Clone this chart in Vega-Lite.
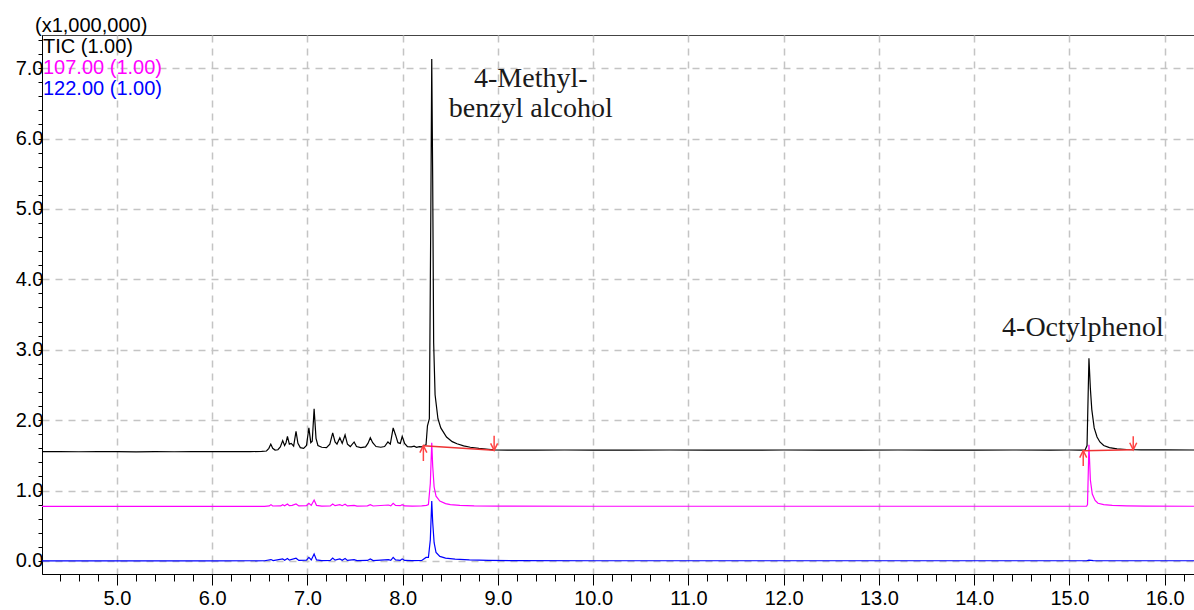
{
  "$schema": "https://vega.github.io/schema/vega-lite/v6.json",
  "autosize": "none",
  "width": 1156,
  "height": 539,
  "padding": {"left": 42, "top": 35, "right": 0, "bottom": 36},
  "background": "white",
  "title": {
    "text": "(x1,000,000)",
    "anchor": "start",
    "frame": "group",
    "font": "Liberation Sans",
    "fontSize": 20,
    "fontWeight": "normal",
    "color": "#000000",
    "baseline": "alphabetic",
    "offset": 5,
    "dx": -7,
    "dy": 27
  },
  "config": {
    "view": {"stroke": "#444444", "strokeWidth": 1},
    "axis": {
      "labelFont": "Liberation Sans",
      "labelFontSize": 20,
      "labelColor": "#000000",
      "domainColor": "#000000",
      "domainWidth": 1,
      "tickColor": "#000000",
      "tickWidth": 1,
      "gridColor": "#c4c4c4",
      "gridDash": [7, 6],
      "gridWidth": 1.5,
      "labelOverlap": false,
      "labelFlush": false,
      "title": null
    }
  },
  "resolve": {"axis": {"x": "independent"}},
  "datasets": {
    "traces": [
      {"trace": "TIC", "rt": 4.21, "v": 1.552},
      {"trace": "TIC", "rt": 4.4, "v": 1.553},
      {"trace": "TIC", "rt": 4.6, "v": 1.551},
      {"trace": "TIC", "rt": 4.8, "v": 1.554},
      {"trace": "TIC", "rt": 5.0, "v": 1.552},
      {"trace": "TIC", "rt": 5.2, "v": 1.55},
      {"trace": "TIC", "rt": 5.4, "v": 1.553},
      {"trace": "TIC", "rt": 5.6, "v": 1.551},
      {"trace": "TIC", "rt": 5.8, "v": 1.553},
      {"trace": "TIC", "rt": 6.0, "v": 1.552},
      {"trace": "TIC", "rt": 6.2, "v": 1.554},
      {"trace": "TIC", "rt": 6.4, "v": 1.553},
      {"trace": "TIC", "rt": 6.52, "v": 1.556},
      {"trace": "TIC", "rt": 6.57, "v": 1.562},
      {"trace": "TIC", "rt": 6.595, "v": 1.6},
      {"trace": "TIC", "rt": 6.615, "v": 1.66},
      {"trace": "TIC", "rt": 6.635, "v": 1.6},
      {"trace": "TIC", "rt": 6.66, "v": 1.575},
      {"trace": "TIC", "rt": 6.69, "v": 1.58},
      {"trace": "TIC", "rt": 6.715, "v": 1.62},
      {"trace": "TIC", "rt": 6.74, "v": 1.71},
      {"trace": "TIC", "rt": 6.76, "v": 1.64},
      {"trace": "TIC", "rt": 6.775, "v": 1.68},
      {"trace": "TIC", "rt": 6.79, "v": 1.77},
      {"trace": "TIC", "rt": 6.81, "v": 1.66},
      {"trace": "TIC", "rt": 6.83, "v": 1.67},
      {"trace": "TIC", "rt": 6.855, "v": 1.63},
      {"trace": "TIC", "rt": 6.88, "v": 1.84},
      {"trace": "TIC", "rt": 6.9, "v": 1.67},
      {"trace": "TIC", "rt": 6.925, "v": 1.61},
      {"trace": "TIC", "rt": 6.96, "v": 1.6},
      {"trace": "TIC", "rt": 6.99, "v": 1.64},
      {"trace": "TIC", "rt": 7.015, "v": 1.89},
      {"trace": "TIC", "rt": 7.035, "v": 1.68},
      {"trace": "TIC", "rt": 7.05, "v": 1.7},
      {"trace": "TIC", "rt": 7.07, "v": 2.16},
      {"trace": "TIC", "rt": 7.09, "v": 1.74},
      {"trace": "TIC", "rt": 7.11, "v": 1.64},
      {"trace": "TIC", "rt": 7.15, "v": 1.615},
      {"trace": "TIC", "rt": 7.2, "v": 1.61},
      {"trace": "TIC", "rt": 7.235, "v": 1.66},
      {"trace": "TIC", "rt": 7.265, "v": 1.82},
      {"trace": "TIC", "rt": 7.29, "v": 1.69},
      {"trace": "TIC", "rt": 7.31, "v": 1.66},
      {"trace": "TIC", "rt": 7.34, "v": 1.75},
      {"trace": "TIC", "rt": 7.365, "v": 1.67},
      {"trace": "TIC", "rt": 7.395, "v": 1.79},
      {"trace": "TIC", "rt": 7.42, "v": 1.66},
      {"trace": "TIC", "rt": 7.45, "v": 1.625},
      {"trace": "TIC", "rt": 7.49, "v": 1.69},
      {"trace": "TIC", "rt": 7.515, "v": 1.625},
      {"trace": "TIC", "rt": 7.56, "v": 1.61},
      {"trace": "TIC", "rt": 7.61, "v": 1.62},
      {"trace": "TIC", "rt": 7.635, "v": 1.67},
      {"trace": "TIC", "rt": 7.66, "v": 1.75},
      {"trace": "TIC", "rt": 7.685, "v": 1.68},
      {"trace": "TIC", "rt": 7.72, "v": 1.625},
      {"trace": "TIC", "rt": 7.77, "v": 1.615},
      {"trace": "TIC", "rt": 7.81, "v": 1.625},
      {"trace": "TIC", "rt": 7.845, "v": 1.69},
      {"trace": "TIC", "rt": 7.87, "v": 1.66},
      {"trace": "TIC", "rt": 7.9, "v": 1.89},
      {"trace": "TIC", "rt": 7.925, "v": 1.79},
      {"trace": "TIC", "rt": 7.95, "v": 1.68},
      {"trace": "TIC", "rt": 7.975, "v": 1.67},
      {"trace": "TIC", "rt": 7.995, "v": 1.77},
      {"trace": "TIC", "rt": 8.02, "v": 1.67},
      {"trace": "TIC", "rt": 8.05, "v": 1.625},
      {"trace": "TIC", "rt": 8.09, "v": 1.62},
      {"trace": "TIC", "rt": 8.12, "v": 1.63},
      {"trace": "TIC", "rt": 8.145, "v": 1.615},
      {"trace": "TIC", "rt": 8.175, "v": 1.625},
      {"trace": "TIC", "rt": 8.2, "v": 1.62},
      {"trace": "TIC", "rt": 8.225, "v": 1.64},
      {"trace": "TIC", "rt": 8.245, "v": 1.65},
      {"trace": "TIC", "rt": 8.26, "v": 1.92},
      {"trace": "TIC", "rt": 8.28, "v": 2.02},
      {"trace": "TIC", "rt": 8.295, "v": 4.9},
      {"trace": "TIC", "rt": 8.305, "v": 7.13},
      {"trace": "TIC", "rt": 8.315, "v": 5.4},
      {"trace": "TIC", "rt": 8.325, "v": 3.1},
      {"trace": "TIC", "rt": 8.34, "v": 2.36},
      {"trace": "TIC", "rt": 8.37, "v": 2.02},
      {"trace": "TIC", "rt": 8.4, "v": 1.89},
      {"trace": "TIC", "rt": 8.46, "v": 1.76},
      {"trace": "TIC", "rt": 8.52, "v": 1.695},
      {"trace": "TIC", "rt": 8.57, "v": 1.665},
      {"trace": "TIC", "rt": 8.64, "v": 1.635},
      {"trace": "TIC", "rt": 8.71, "v": 1.615},
      {"trace": "TIC", "rt": 8.8, "v": 1.598},
      {"trace": "TIC", "rt": 8.9, "v": 1.585},
      {"trace": "TIC", "rt": 8.96, "v": 1.578},
      {"trace": "TIC", "rt": 9.1, "v": 1.575},
      {"trace": "TIC", "rt": 9.4, "v": 1.574},
      {"trace": "TIC", "rt": 9.7, "v": 1.576},
      {"trace": "TIC", "rt": 10.0, "v": 1.575},
      {"trace": "TIC", "rt": 10.4, "v": 1.573},
      {"trace": "TIC", "rt": 10.8, "v": 1.576},
      {"trace": "TIC", "rt": 11.2, "v": 1.575},
      {"trace": "TIC", "rt": 11.6, "v": 1.574},
      {"trace": "TIC", "rt": 12.0, "v": 1.576},
      {"trace": "TIC", "rt": 12.4, "v": 1.575},
      {"trace": "TIC", "rt": 12.8, "v": 1.574},
      {"trace": "TIC", "rt": 13.2, "v": 1.576},
      {"trace": "TIC", "rt": 13.6, "v": 1.575},
      {"trace": "TIC", "rt": 14.0, "v": 1.574},
      {"trace": "TIC", "rt": 14.4, "v": 1.576},
      {"trace": "TIC", "rt": 14.8, "v": 1.575},
      {"trace": "TIC", "rt": 15.0, "v": 1.576},
      {"trace": "TIC", "rt": 15.12, "v": 1.575},
      {"trace": "TIC", "rt": 15.165, "v": 1.578},
      {"trace": "TIC", "rt": 15.185, "v": 1.64},
      {"trace": "TIC", "rt": 15.205, "v": 2.88},
      {"trace": "TIC", "rt": 15.22, "v": 2.45},
      {"trace": "TIC", "rt": 15.235, "v": 2.15},
      {"trace": "TIC", "rt": 15.26, "v": 1.89},
      {"trace": "TIC", "rt": 15.29, "v": 1.76},
      {"trace": "TIC", "rt": 15.32, "v": 1.69},
      {"trace": "TIC", "rt": 15.36, "v": 1.64},
      {"trace": "TIC", "rt": 15.42, "v": 1.61},
      {"trace": "TIC", "rt": 15.5, "v": 1.592},
      {"trace": "TIC", "rt": 15.6, "v": 1.583},
      {"trace": "TIC", "rt": 15.75, "v": 1.578},
      {"trace": "TIC", "rt": 16.0, "v": 1.577},
      {"trace": "TIC", "rt": 16.35, "v": 1.576},

      {"trace": "107.00", "rt": 4.21, "v": 0.776},
      {"trace": "107.00", "rt": 5.0, "v": 0.776},
      {"trace": "107.00", "rt": 6.0, "v": 0.776},
      {"trace": "107.00", "rt": 6.55, "v": 0.776},
      {"trace": "107.00", "rt": 6.6, "v": 0.782},
      {"trace": "107.00", "rt": 6.617, "v": 0.8},
      {"trace": "107.00", "rt": 6.635, "v": 0.781},
      {"trace": "107.00", "rt": 6.72, "v": 0.782},
      {"trace": "107.00", "rt": 6.74, "v": 0.8},
      {"trace": "107.00", "rt": 6.76, "v": 0.785},
      {"trace": "107.00", "rt": 6.79, "v": 0.81},
      {"trace": "107.00", "rt": 6.81, "v": 0.785},
      {"trace": "107.00", "rt": 6.84, "v": 0.79},
      {"trace": "107.00", "rt": 6.88, "v": 0.81},
      {"trace": "107.00", "rt": 6.91, "v": 0.782},
      {"trace": "107.00", "rt": 6.99, "v": 0.785},
      {"trace": "107.00", "rt": 7.015, "v": 0.82},
      {"trace": "107.00", "rt": 7.04, "v": 0.79},
      {"trace": "107.00", "rt": 7.07, "v": 0.865},
      {"trace": "107.00", "rt": 7.095, "v": 0.79},
      {"trace": "107.00", "rt": 7.15, "v": 0.779},
      {"trace": "107.00", "rt": 7.24, "v": 0.782},
      {"trace": "107.00", "rt": 7.265, "v": 0.81},
      {"trace": "107.00", "rt": 7.29, "v": 0.785},
      {"trace": "107.00", "rt": 7.34, "v": 0.8},
      {"trace": "107.00", "rt": 7.365, "v": 0.785},
      {"trace": "107.00", "rt": 7.395, "v": 0.805},
      {"trace": "107.00", "rt": 7.42, "v": 0.782},
      {"trace": "107.00", "rt": 7.49, "v": 0.79},
      {"trace": "107.00", "rt": 7.52, "v": 0.779},
      {"trace": "107.00", "rt": 7.63, "v": 0.782},
      {"trace": "107.00", "rt": 7.66, "v": 0.8},
      {"trace": "107.00", "rt": 7.69, "v": 0.781},
      {"trace": "107.00", "rt": 7.85, "v": 0.795},
      {"trace": "107.00", "rt": 7.875, "v": 0.783},
      {"trace": "107.00", "rt": 7.9, "v": 0.82},
      {"trace": "107.00", "rt": 7.925, "v": 0.79},
      {"trace": "107.00", "rt": 7.975, "v": 0.785},
      {"trace": "107.00", "rt": 7.995, "v": 0.8},
      {"trace": "107.00", "rt": 8.02, "v": 0.782},
      {"trace": "107.00", "rt": 8.1, "v": 0.78},
      {"trace": "107.00", "rt": 8.2, "v": 0.782},
      {"trace": "107.00", "rt": 8.25, "v": 0.79},
      {"trace": "107.00", "rt": 8.27, "v": 0.8},
      {"trace": "107.00", "rt": 8.29, "v": 1.1},
      {"trace": "107.00", "rt": 8.305, "v": 1.68},
      {"trace": "107.00", "rt": 8.315, "v": 1.35},
      {"trace": "107.00", "rt": 8.33, "v": 1.05},
      {"trace": "107.00", "rt": 8.35, "v": 0.92},
      {"trace": "107.00", "rt": 8.39, "v": 0.85},
      {"trace": "107.00", "rt": 8.45, "v": 0.815},
      {"trace": "107.00", "rt": 8.5, "v": 0.8},
      {"trace": "107.00", "rt": 8.6, "v": 0.79},
      {"trace": "107.00", "rt": 8.75, "v": 0.782},
      {"trace": "107.00", "rt": 9.0, "v": 0.778},
      {"trace": "107.00", "rt": 10.0, "v": 0.777},
      {"trace": "107.00", "rt": 12.0, "v": 0.777},
      {"trace": "107.00", "rt": 14.0, "v": 0.777},
      {"trace": "107.00", "rt": 15.18, "v": 0.777},
      {"trace": "107.00", "rt": 15.19, "v": 0.8},
      {"trace": "107.00", "rt": 15.205, "v": 1.65},
      {"trace": "107.00", "rt": 15.22, "v": 1.15},
      {"trace": "107.00", "rt": 15.24, "v": 0.95},
      {"trace": "107.00", "rt": 15.27, "v": 0.86},
      {"trace": "107.00", "rt": 15.3, "v": 0.82},
      {"trace": "107.00", "rt": 15.36, "v": 0.8},
      {"trace": "107.00", "rt": 15.45, "v": 0.79},
      {"trace": "107.00", "rt": 15.6, "v": 0.783},
      {"trace": "107.00", "rt": 15.8, "v": 0.778},
      {"trace": "107.00", "rt": 16.35, "v": 0.777},

      {"trace": "122.00", "rt": 4.21, "v": 0.002},
      {"trace": "122.00", "rt": 5.0, "v": 0.002},
      {"trace": "122.00", "rt": 6.0, "v": 0.002},
      {"trace": "122.00", "rt": 6.55, "v": 0.003},
      {"trace": "122.00", "rt": 6.617, "v": 0.02},
      {"trace": "122.00", "rt": 6.64, "v": 0.005},
      {"trace": "122.00", "rt": 6.74, "v": 0.03},
      {"trace": "122.00", "rt": 6.76, "v": 0.01},
      {"trace": "122.00", "rt": 6.79, "v": 0.035},
      {"trace": "122.00", "rt": 6.81, "v": 0.012},
      {"trace": "122.00", "rt": 6.88, "v": 0.04},
      {"trace": "122.00", "rt": 6.91, "v": 0.008},
      {"trace": "122.00", "rt": 6.99, "v": 0.012},
      {"trace": "122.00", "rt": 7.015, "v": 0.05},
      {"trace": "122.00", "rt": 7.04, "v": 0.015},
      {"trace": "122.00", "rt": 7.07, "v": 0.1},
      {"trace": "122.00", "rt": 7.095, "v": 0.015},
      {"trace": "122.00", "rt": 7.15, "v": 0.006},
      {"trace": "122.00", "rt": 7.24, "v": 0.008},
      {"trace": "122.00", "rt": 7.265, "v": 0.04},
      {"trace": "122.00", "rt": 7.29, "v": 0.012},
      {"trace": "122.00", "rt": 7.34, "v": 0.03},
      {"trace": "122.00", "rt": 7.365, "v": 0.01},
      {"trace": "122.00", "rt": 7.395, "v": 0.035},
      {"trace": "122.00", "rt": 7.42, "v": 0.008},
      {"trace": "122.00", "rt": 7.49, "v": 0.02},
      {"trace": "122.00", "rt": 7.52, "v": 0.006},
      {"trace": "122.00", "rt": 7.63, "v": 0.008},
      {"trace": "122.00", "rt": 7.66, "v": 0.03},
      {"trace": "122.00", "rt": 7.69, "v": 0.006},
      {"trace": "122.00", "rt": 7.85, "v": 0.02},
      {"trace": "122.00", "rt": 7.875, "v": 0.01},
      {"trace": "122.00", "rt": 7.9, "v": 0.05},
      {"trace": "122.00", "rt": 7.925, "v": 0.015},
      {"trace": "122.00", "rt": 7.975, "v": 0.01},
      {"trace": "122.00", "rt": 7.995, "v": 0.03},
      {"trace": "122.00", "rt": 8.02, "v": 0.008},
      {"trace": "122.00", "rt": 8.1, "v": 0.006},
      {"trace": "122.00", "rt": 8.2, "v": 0.008},
      {"trace": "122.00", "rt": 8.245, "v": 0.05},
      {"trace": "122.00", "rt": 8.27, "v": 0.05},
      {"trace": "122.00", "rt": 8.29, "v": 0.3},
      {"trace": "122.00", "rt": 8.305, "v": 0.85},
      {"trace": "122.00", "rt": 8.315, "v": 0.55},
      {"trace": "122.00", "rt": 8.33, "v": 0.26},
      {"trace": "122.00", "rt": 8.35, "v": 0.12},
      {"trace": "122.00", "rt": 8.39, "v": 0.065},
      {"trace": "122.00", "rt": 8.45, "v": 0.04},
      {"trace": "122.00", "rt": 8.55, "v": 0.025},
      {"trace": "122.00", "rt": 8.7, "v": 0.015},
      {"trace": "122.00", "rt": 8.9, "v": 0.008},
      {"trace": "122.00", "rt": 9.2, "v": 0.004},
      {"trace": "122.00", "rt": 10.0, "v": 0.003},
      {"trace": "122.00", "rt": 12.0, "v": 0.003},
      {"trace": "122.00", "rt": 14.0, "v": 0.003},
      {"trace": "122.00", "rt": 15.18, "v": 0.003},
      {"trace": "122.00", "rt": 15.205, "v": 0.012},
      {"trace": "122.00", "rt": 15.25, "v": 0.004},
      {"trace": "122.00", "rt": 16.35, "v": 0.003}
    ],
    "integration": [
      {"peak": "4-Methyl-benzyl alcohol", "rt": 8.217, "v": 1.638},
      {"peak": "4-Methyl-benzyl alcohol", "rt": 8.96, "v": 1.571},
      {"peak": "4-Octylphenol", "rt": 15.145, "v": 1.567},
      {"peak": "4-Octylphenol", "rt": 15.67, "v": 1.58}
    ],
    "markers": [
      {"rt": 8.217, "tip": 1.638, "tail": 1.42, "dir": "start"},
      {"rt": 8.96, "tip": 1.571, "tail": 1.78, "dir": "end"},
      {"rt": 15.145, "tip": 1.567, "tail": 1.35, "dir": "start"},
      {"rt": 15.67, "tip": 1.58, "tail": 1.77, "dir": "end"}
    ],
    "compounds": [
      {"name": "4-Methyl-\nbenzyl alcohol", "rt": 8.305, "apex": 7.13},
      {"name": "4-Octylphenol", "rt": 15.205, "apex": 2.88}
    ]
  },
  "encoding": {
    "y": {
      "type": "quantitative",
      "scale": {"domain": [-0.185, 7.47], "nice": false, "zero": false},
      "axis": {
        "values": [0, 0.2, 0.4, 0.6, 0.8, 1, 1.2, 1.4, 1.6, 1.8, 2, 2.2, 2.4, 2.6, 2.8, 3, 3.2, 3.4, 3.6, 3.8, 4, 4.2, 4.4, 4.6, 4.8, 5, 5.2, 5.4, 5.6, 5.8, 6, 6.2, 6.4, 6.6, 6.8, 7, 7.2, 7.4],
        "grid": true,
        "gridOpacity": {"condition": {"test": "abs(datum.value - round(datum.value)) < 0.001", "value": 1}, "value": 0},
        "tickSize": 4,
        "labelExpr": "abs(datum.value - round(datum.value)) < 0.001 ? format(datum.value, '.1f') : ''",
        "labelPadding": -5
      }
    }
  },
  "layer": [
    {
      "data": {"name": "traces"},
      "mark": {"type": "line", "strokeWidth": 1.2, "interpolate": "linear", "clip": true},
      "encoding": {
        "x": {
          "field": "rt",
          "type": "quantitative",
          "scale": {"domain": [4.213, 16.35], "nice": false, "zero": false},
          "axis": {
            "orient": "bottom",
            "values": [5, 6, 7, 8, 9, 10, 11, 12, 13, 14, 15, 16],
            "grid": true,
            "tickSize": 11,
            "format": ".1f",
            "labelPadding": 3
          }
        },
        "y": {"field": "v", "type": "quantitative"},
        "color": {
          "field": "trace",
          "type": "nominal",
          "sort": ["TIC", "107.00", "122.00"],
          "scale": {"domain": ["TIC", "107.00", "122.00"], "range": ["#000000", "#ff00ff", "#0000ff"]},
          "legend": {
            "orient": "none",
            "legendX": -19,
            "legendY": 2,
            "title": null,
            "padding": 0,
            "symbolSize": 0,
            "symbolOpacity": 0,
            "symbolStrokeWidth": 0,
            "labelOffset": 0,
            "labelFont": "Liberation Sans",
            "labelFontSize": 20,
            "rowPadding": 1,
            "labelExpr": "datum.label + ' (1.00)'",
            "encode": {"labels": {"update": {"fill": {"scale": "color", "field": "value"}}}}
          }
        },
        "order": {"field": "rt", "type": "quantitative"}
      }
    },
    {
      "data": {"name": "integration"},
      "mark": {"type": "line", "color": "#ee3333", "strokeWidth": 1.5},
      "encoding": {
        "x": {
          "field": "rt",
          "type": "quantitative",
          "scale": {"domain": [4.213, 16.35], "nice": false, "zero": false},
          "axis": {
            "orient": "bottom",
            "values": [4.4, 4.6, 4.8, 5.2, 5.4, 5.6, 5.8, 6.2, 6.4, 6.6, 6.8, 7.2, 7.4, 7.6, 7.8, 8.2, 8.4, 8.6, 8.8, 9.2, 9.4, 9.6, 9.8, 10.2, 10.4, 10.6, 10.8, 11.2, 11.4, 11.6, 11.8, 12.2, 12.4, 12.6, 12.8, 13.2, 13.4, 13.6, 13.8, 14.2, 14.4, 14.6, 14.8, 15.2, 15.4, 15.6, 15.8, 16.2],
            "grid": false,
            "domain": false,
            "labels": false,
            "tickSize": 7
          }
        },
        "y": {"field": "v", "type": "quantitative"},
        "detail": {"field": "peak"}
      }
    },
    {
      "data": {"name": "markers"},
      "mark": {"type": "rule", "color": "#ff4444", "strokeWidth": 1.5},
      "encoding": {
        "x": {"field": "rt", "type": "quantitative", "scale": {"domain": [4.213, 16.35], "nice": false, "zero": false}, "axis": null},
        "y": {"field": "tail", "type": "quantitative"},
        "y2": {"field": "tip"}
      }
    },
    {
      "data": {"name": "markers"},
      "mark": {"type": "point", "filled": false, "color": "#ff4444", "strokeWidth": 1.5, "opacity": 1, "size": 100},
      "encoding": {
        "x": {"field": "rt", "type": "quantitative", "scale": {"domain": [4.213, 16.35], "nice": false, "zero": false}, "axis": null},
        "y": {"field": "tip", "type": "quantitative"},
        "shape": {
          "field": "dir",
          "type": "nominal",
          "scale": {"domain": ["start", "end"], "range": ["M -0.7 1.4 L 0 0 L 0.7 1.4", "M -0.7 -1.4 L 0 0 L 0.7 -1.4"]},
          "legend": null
        }
      }
    },
    {
      "data": {"name": "compounds"},
      "transform": [{"filter": "datum.rt < 10"}],
      "mark": {"type": "text", "font": "Liberation Serif", "fontSize": 28, "color": "#1a1a1a", "align": "center", "baseline": "alphabetic", "lineBreak": "\n", "lineHeight": 30, "dx": 99, "dy": 28},
      "encoding": {
        "x": {"field": "rt", "type": "quantitative", "scale": {"domain": [4.213, 16.35], "nice": false, "zero": false}, "axis": null},
        "y": {"field": "apex", "type": "quantitative"},
        "text": {"field": "name"}
      }
    },
    {
      "data": {"name": "compounds"},
      "transform": [{"filter": "datum.rt > 10"}],
      "mark": {"type": "text", "font": "Liberation Serif", "fontSize": 28, "color": "#1a1a1a", "align": "center", "baseline": "alphabetic", "dx": -6, "dy": -22},
      "encoding": {
        "x": {"field": "rt", "type": "quantitative", "scale": {"domain": [4.213, 16.35], "nice": false, "zero": false}, "axis": null},
        "y": {"field": "apex", "type": "quantitative"},
        "text": {"field": "name"}
      }
    }
  ]
}
